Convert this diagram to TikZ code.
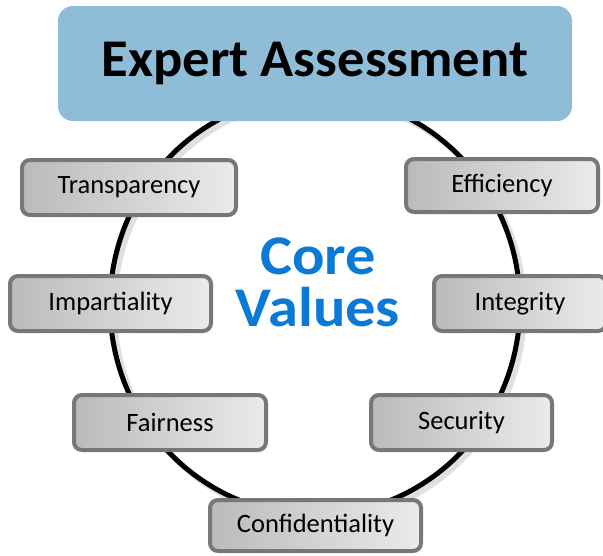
\documentclass[tikz,border=0pt]{standalone}
\usepackage{fontspec}
\setmainfont{Carlito}
\newfontfamily\widefont[FakeStretch=1.03]{Carlito}
\newfontfamily\corefont[FakeStretch=1.08]{Carlito}
\definecolor{hdrblue}{HTML}{8FBCD6}
\definecolor{coreblue}{HTML}{0A7AD6}
\definecolor{rimgray}{HTML}{777777}
\tikzset{
  valbox/.style={draw=rimgray, line width=4pt, rounded corners=8pt,
    left color=black!27, right color=black!8,
    inner sep=0pt, font=\fontsize{26.5}{30}\selectfont, text=black},
  header/.style={fill=hdrblue, rounded corners=15pt, inner sep=0pt,
    font=\widefont\bfseries\fontsize{53}{60}\selectfont, text=black},
  ring/.style={draw=black, line width=5pt},
  ringshadow/.style={draw=black!40, line width=6pt, opacity=0.3},
  core/.style={text=coreblue, font=\corefont\bfseries\fontsize{56}{52}\selectfont, align=center}
}
\begin{document}
\begin{tikzpicture}[x=1pt,y=-1pt]
\useasboundingbox (0,0) rectangle (603,555);
% ring with soft shadow
\draw[ringshadow] (319,309) ellipse [x radius=205, y radius=210];
\draw[ring] (315,305) ellipse [x radius=205, y radius=210];
% header
\node[header, minimum width=514pt, minimum height=115pt] (hdr) at (315,63.5) {Expert Assessment};
% core text
\node[core] (core) at (318,282) {Core\\Values};
% value boxes
\node[valbox, minimum width=214pt, minimum height=55pt] (transp) at (129,187.5) {Transparency};
\node[valbox, minimum width=201pt, minimum height=55pt] (impart) at (110.5,303.5) {Impartiality};
\node[valbox, minimum width=192pt, minimum height=53pt] (effic) at (502,185.5) {Efficiency};
\node[valbox, minimum width=172pt, minimum height=55pt] (integ) at (520,303.5) {Integrity};
\node[valbox, minimum width=192pt, minimum height=55pt] (fair) at (170,422.5) {Fairness};
\node[valbox, minimum width=181pt, minimum height=55pt] (secur) at (461.5,422.5) {Security};
\node[valbox, minimum width=211pt, minimum height=51pt] (confid) at (315.5,525.5) {Confidentiality};
\end{tikzpicture}
\end{document}
